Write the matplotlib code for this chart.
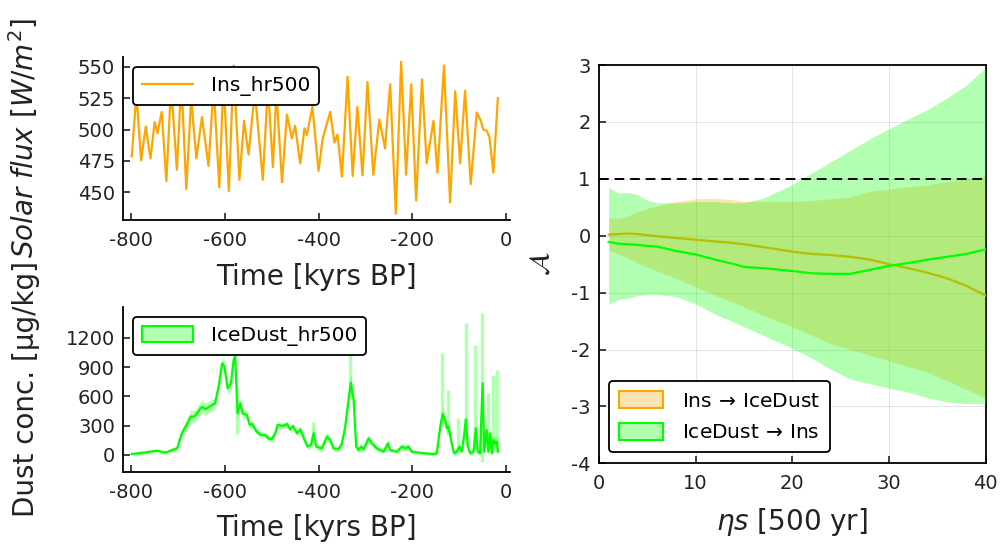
import numpy as np
import matplotlib
matplotlib.use('Agg')
import matplotlib.pyplot as plt
from matplotlib.patches import Patch

plt.rcParams['font.family'] = ['DejaVu Sans']
plt.rcParams['axes.unicode_minus'] = False
plt.rcParams['mathtext.fontset'] = 'dejavusans'

# --- insolation (Ins_hr500), turning points
ins_t = [-799, -789, -779, -769, -759, -750, -744, -735, -725, -715,
         -702.5, -693, -682.5, -672, -661, -649, -635, -624, -612, -603,
         -591.5, -581.5, -569, -559, -549.5, -536, -519, -508, -497.5, -490,
         -478, -467.5, -457, -450, -439, -430, -425, -413, -400, -391,
         -375, -366, -359.5, -350, -338, -327, -317, -306, -295.5, -283,
         -270, -258, -247, -235, -223.5, -213, -202, -191.5, -179, -169,
         -154.5, -146, -132, -119, -108, -97.5, -87, -75, -62, -53.5,
         -48, -40.5, -35, -26.5, -17]
ins_v = [478.6, 528, 475.5, 502.5, 477, 506, 497, 514, 459, 535,
         468, 540, 452.6, 525, 477, 510, 471, 535, 454, 540,
         451, 551, 460, 507, 480, 530, 460, 535, 470, 530,
         458, 512, 493, 503, 473, 501, 495.5, 518, 467, 493,
         514, 489.5, 496, 462.5, 542, 463, 518, 463.5, 538, 464,
         508, 485, 536, 433, 554, 464, 536, 443.5, 540, 473,
         507, 465.6, 551, 442, 530.5, 473, 531, 456.5, 513.6, 507,
         500, 499, 494, 465.6, 525]

# --- ice core dust (IceDust_hr500)
dust_t = [-799, -774, -745, -727, -713, -702, -692, -680, -673, -665.5,
          -660, -649, -642, -631, -621, -613.5, -606, -601, -594, -587,
          -581.5, -578, -573, -567, -562, -553, -547, -542, -532, -523,
          -514, -507, -500, -492.5, -487.5, -476, -467.5, -460.5, -455, -446,
          -439, -430.5, -423.5, -416.5, -410.5, -405, -393, -382, -375, -368,
          -357, -350, -343, -336, -331, -325, -319.5, -314.5, -309.5, -304,
          -293, -286, -275.5, -261, -252, -247, -233, -222, -215, -208,
          -201, -186.5, -172, -154.5, -147.5, -140, -135, -129.5, -126, -122.5,
          -115.5, -110.5, -105, -99, -94, -89, -85.5, -81, -76, -69,
          -64, -60, -55, -49.5, -46, -41, -37.5, -34, -30, -26.5,
          -23, -19, -17]
dust_v = [10, 24, 44, 24, 51, 68, 222, 324, 392, 392,
          426, 494, 467, 501, 528, 699, 937, 903, 682, 733,
          971, 1010, 426, 528, 426, 409, 307, 317, 239, 205,
          205, 170, 160, 222, 307, 297, 317, 262, 297, 222,
          262, 160, 85, 102, 222, 85, 68, 188, 153, 68,
          58, 119, 290, 563, 740, 563, 85, 51, 85, 58,
          170, 119, 68, 34, 119, 51, 34, 85, 68, 85,
          34, 24, 17, 10, 17, 290, 419, 358, 273, 290,
          119, 17, 34, 85, 34, 205, 365, 85, 17, 34,
          273, 34, 17, 733, 34, 256, 34, 222, 17, 153,
          119, 136, 34]
dust_err = [15, 15, 15, 15, 20, 25, 40, 60, 70, 60,
            60, 70, 60, 60, 60, 70, 60, 60, 60, 60,
            60, 60, 60, 60, 50, 40, 40, 40, 30, 30,
            30, 30, 30, 30, 40, 30, 30, 30, 30, 30,
            30, 40, 30, 30, 60, 30, 30, 50, 30, 30,
            30, 40, 60, 80, 90, 60, 30, 30, 40, 30,
            40, 30, 30, 20, 50, 20, 20, 40, 30, 30,
            20, 15, 15, 15, 15, 60, 80, 60, 50, 50,
            40, 30, 30, 40, 30, 50, 60, 40, 30, 30,
            50, 30, 30, 60, 40, 50, 30, 40, 30, 40,
            40, 40, 30]
# thin spikes of the uncertainty band
spike_t = [-575, -411, -333, -137, -124, -102, -85, -66, -50, -38, -28, -19]
spike_lo = [210, 100, 600, 300, 200, 50, 100, 50, -70, 50, 30, 30]
spike_hi = [700, 340, 1050, 1043, 665, 378, 1350, 1125, 1450, 634, 818, 870]

# --- right panel: A vs eta s
eta = [1, 2, 3, 4, 5, 6, 8, 10, 12, 14, 15, 17, 20, 22, 24, 26, 28, 30, 32, 34, 36, 38, 40]
a_ins_dust = [0.02, 0.03, 0.04, 0.03, 0.01, -0.01, -0.04, -0.07, -0.1, -0.13, -0.15, -0.2,
              -0.28, -0.32, -0.34, -0.37, -0.42, -0.5, -0.57, -0.65, -0.75, -0.88, -1.05]
a_ins_dust_hi = [0.32, 0.3, 0.35, 0.42, 0.48, 0.52, 0.6, 0.65, 0.66, 0.63, 0.6, 0.6,
                 0.6, 0.62, 0.65, 0.68, 0.78, 0.82, 0.86, 0.9, 0.95, 1.0, 1.05]
a_ins_dust_lo = [-0.25, -0.32, -0.4, -0.48, -0.55, -0.62, -0.75, -0.9, -1.05, -1.18, -1.25, -1.4,
                 -1.6, -1.75, -1.9, -2.0, -2.1, -2.2, -2.3, -2.4, -2.55, -2.7, -2.85]
a_dust_ins = [-0.11, -0.14, -0.15, -0.16, -0.18, -0.19, -0.27, -0.33, -0.42, -0.5, -0.55, -0.57,
              -0.62, -0.66, -0.67, -0.67, -0.6, -0.53, -0.48, -0.42, -0.37, -0.32, -0.24]
a_dust_ins_hi = [0.85, 0.75, 0.76, 0.72, 0.62, 0.58, 0.58, 0.6, 0.6, 0.58, 0.58, 0.66,
                 0.9, 1.1, 1.3, 1.5, 1.7, 1.88, 2.05, 2.22, 2.42, 2.65, 2.95]
a_dust_ins_lo = [-1.2, -1.12, -1.1, -1.05, -1.03, -1.03, -1.07, -1.2, -1.38, -1.52, -1.6, -1.75,
                 -1.98, -2.15, -2.35, -2.52, -2.6, -2.68, -2.75, -2.85, -2.92, -2.95, -2.95]

orange = '#FFA500'
green = '#00FF00'
txt = '#222222'
fs_tick = 14
fs_lab = 20
fs_leg = 14.5

fig = plt.figure(figsize=(10, 5.44), dpi=100)
ax1 = fig.add_axes([0.1233, 0.5956, 0.3867, 0.3002])
ax2 = fig.add_axes([0.1233, 0.1329, 0.3867, 0.3033])
ax3 = fig.add_axes([0.599, 0.1483, 0.3867, 0.7322])

for ax in (ax1, ax2):
    ax.spines['top'].set_visible(False)
    ax.spines['right'].set_visible(False)
for ax in (ax1, ax2, ax3):
    for s in ax.spines.values():
        s.set_linewidth(1.3)
    ax.tick_params(direction='in', length=5, width=1.2, labelsize=fs_tick,
                   colors=txt, top=False, right=False)
    ax.tick_params(axis='x', pad=8)
    ax.tick_params(axis='y', pad=6)

# top-left: insolation
ax1.plot(ins_t, ins_v, color=orange, lw=1.6, label='Ins_hr500')
ax1.set_xlim(-817, 9)
ax1.set_ylim(428, 558)
ax1.set_xticks([-800, -600, -400, -200, 0])
ax1.set_yticks([450, 475, 500, 525, 550])
ax1.set_xlabel('Time [kyrs BP]', fontsize=fs_lab, color=txt, labelpad=9)
ax1.set_ylabel(r'$Solar\ flux\ [W/m^2]$', fontsize=fs_lab, color=txt)
ax1.yaxis.set_label_coords(-0.215, 0.5)
ax1.legend(loc='upper left', bbox_to_anchor=(0.026, 0.939), borderaxespad=0,
           fontsize=fs_leg, frameon=True, edgecolor='black', framealpha=1,
           handlelength=2.5, handletextpad=0.9, borderpad=0.45).get_frame().set_linewidth(1.3)

# bottom-left: dust
dv = np.array(dust_v)
de = np.array(dust_err)
ax2.fill_between(dust_t, dv - de, dv + de, color=green, alpha=0.3, lw=0)
ax2.vlines(spike_t, spike_lo, spike_hi, color=green, alpha=0.3, lw=2.5)
ax2.plot(dust_t, dust_v, color=green, lw=1.6)
ax2.set_xlim(-817, 9)
ax2.set_ylim(-171, 1517)
ax2.set_xticks([-800, -600, -400, -200, 0])
ax2.set_yticks([0, 300, 600, 900, 1200])
ax2.set_xlabel('Time [kyrs BP]', fontsize=fs_lab, color=txt, labelpad=9)
ax2.set_ylabel('Dust conc. [μg/kg]', fontsize=fs_lab, color=txt)
ax2.yaxis.set_label_coords(-0.215, 0.5)
h2 = [Patch(facecolor=(0, 1, 0, 0.3), edgecolor=green, lw=1.5)]
ax2.legend(h2, ['IceDust_hr500'], loc='upper left', bbox_to_anchor=(0.026, 0.939),
           borderaxespad=0, fontsize=fs_leg, frameon=True, edgecolor='black',
           framealpha=1, handlelength=2.5, handleheight=0.8, handletextpad=0.9,
           borderpad=0.45).get_frame().set_linewidth(1.3)

# right: A vs eta s (series drawn in order: ribbon then line)
ax3.fill_between(eta, a_ins_dust_lo, a_ins_dust_hi, color=orange, alpha=0.3, lw=0, zorder=2)
ax3.plot(eta, a_ins_dust, color=orange, lw=1.6, zorder=3)
ax3.fill_between(eta, a_dust_ins_lo, a_dust_ins_hi, color=green, alpha=0.3, lw=0, zorder=4)
ax3.plot(eta, a_dust_ins, color=green, lw=1.6, zorder=5)
ax3.axhline(1, color='black', ls=(0, (5, 3)), lw=1.4, zorder=6)
ax3.set_xlim(0, 40)
ax3.set_ylim(-4, 3)
ax3.set_xticks([0, 10, 20, 30, 40])
ax3.set_yticks([-4, -3, -2, -1, 0, 1, 2, 3])
ax3.grid(True, color='black', alpha=0.1, lw=0.8, zorder=1)
ax3.set_axisbelow(True)
ax3.set_xlabel(r'$\eta s$ [500 yr]', fontsize=fs_lab, color=txt, labelpad=9)
ax3.set_ylabel(r'$\mathcal{A}$', fontsize=fs_lab, color=txt)
ax3.yaxis.set_label_coords(-0.115, 0.5)
h3 = [Patch(facecolor=(1, 0.647, 0, 0.3), edgecolor=orange, lw=1.5),
      Patch(facecolor=(0, 1, 0, 0.3), edgecolor=green, lw=1.5)]
ax3.legend(h3, [r'Ins$\,\rightarrow\,$IceDust', r'IceDust$\,\rightarrow\,$Ins'],
           loc='lower left', bbox_to_anchor=(0.026, 0.028), borderaxespad=0,
           fontsize=fs_leg, frameon=True, edgecolor='black', framealpha=1,
           handlelength=2.2, handleheight=0.9, handletextpad=0.9,
           borderpad=0.5, labelspacing=0.6).get_frame().set_linewidth(1.3)

fig.savefig('out.png', dpi=100)
